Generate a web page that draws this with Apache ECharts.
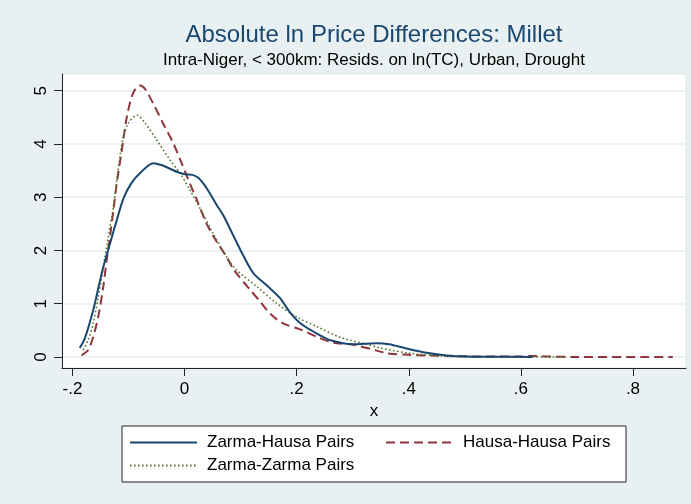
<!DOCTYPE html>
<html>
<head>
<meta charset="utf-8">
<script src="https://cdn.jsdelivr.net/npm/echarts@6/dist/echarts.min.js"></script>
<style>
  html, body { margin: 0; padding: 0; background: #e8f0f2; }
  #main { width: 691px; height: 504px; }
</style>
</head>
<body>
<div id="main"></div>
<script>
// x positions and kernel density values
var zarmaHausaX = [-0.187, -0.178, -0.163, -0.154, -0.145, -0.133, -0.121, -0.109, -0.094, -0.077, -0.056, -0.040, -0.025, -0.012, 0.002, 0.014, 0.025, 0.040, 0.057, 0.069, 0.087, 0.105, 0.123, 0.146, 0.170, 0.188, 0.206, 0.236, 0.262, 0.300, 0.343, 0.365, 0.396, 0.432, 0.468, 0.503, 0.550, 0.620];
var zarmaHausaY = [0.17, 0.35, 0.88, 1.29, 1.69, 2.13, 2.57, 2.98, 3.28, 3.48, 3.64, 3.60, 3.53, 3.47, 3.43, 3.42, 3.36, 3.16, 2.86, 2.66, 2.28, 1.90, 1.57, 1.35, 1.11, 0.84, 0.64, 0.44, 0.31, 0.24, 0.26, 0.24, 0.16, 0.08, 0.03, 0.01, 0.005, 0.0];

var hausaHausaX = [-0.184, -0.172, -0.163, -0.154, -0.145, -0.139, -0.133, -0.127, -0.121, -0.112, -0.103, -0.092, -0.080, -0.071, -0.056, -0.038, -0.020, -0.005, 0.007, 0.022, 0.039, 0.057, 0.075, 0.087, 0.117, 0.135, 0.152, 0.176, 0.206, 0.236, 0.265, 0.301, 0.343, 0.361, 0.402, 0.462, 0.530, 0.600, 0.620, 0.650, 0.700, 0.871];
var hausaHausaY = [0.03, 0.13, 0.38, 0.76, 1.32, 1.82, 2.26, 2.76, 3.26, 3.88, 4.51, 4.95, 5.10, 5.04, 4.76, 4.38, 4.01, 3.63, 3.32, 2.95, 2.51, 2.17, 1.88, 1.65, 1.26, 1.04, 0.82, 0.63, 0.52, 0.38, 0.27, 0.23, 0.12, 0.07, 0.04, 0.02, 0.01, 0.01, 0.02, 0.01, 0.0, 0.0];

var zarmaZarmaX = [-0.181, -0.172, -0.163, -0.154, -0.145, -0.136, -0.127, -0.118, -0.110, -0.100, -0.085, -0.071, -0.050, -0.026, -0.008, 0.010, 0.027, 0.051, 0.075, 0.093, 0.129, 0.164, 0.200, 0.236, 0.280, 0.325, 0.349, 0.402, 0.462, 0.521, 0.600, 0.680];
var zarmaZarmaY = [0.13, 0.32, 0.63, 1.13, 1.69, 2.26, 2.82, 3.55, 4.10, 4.40, 4.54, 4.40, 4.08, 3.70, 3.45, 3.13, 2.80, 2.32, 1.88, 1.63, 1.32, 1.01, 0.75, 0.57, 0.36, 0.24, 0.17, 0.07, 0.02, 0.0, 0.0, 0.0];

var seriesNames = ['Zarma-Hausa Pairs', 'Hausa-Hausa Pairs', 'Zarma-Zarma Pairs'];

var xTicks = [-0.2, 0, 0.2, 0.4, 0.6, 0.8];
var xTickLabels = ['-.2', '0', '.2', '.4', '.6', '.8'];
var yTicks = [0, 1, 2, 3, 4, 5];

function pairs(xs, ys) {
  return xs.map(function (x, i) { return [x, ys[i]]; });
}

var font = "'Liberation Sans', Arial, sans-serif";
var chart = echarts.init(document.getElementById('main'));

var option = {
  backgroundColor: '#e8f0f2',
  animation: false,
  title: {
    text: 'Absolute ln Price Differences: Millet',
    subtext: 'Intra-Niger, < 300km: Resids. on ln(TC), Urban, Drought',
    left: 374,
    top: 23,
    textAlign: 'center',
    itemGap: 5,
    padding: 0,
    textStyle: { fontFamily: font, fontSize: 24, fontWeight: 'normal', color: '#1a476f' },
    subtextStyle: { fontFamily: font, fontSize: 17, color: '#000' }
  },
  legend: {
    data: [
      { name: seriesNames[0], textStyle: { width: 178 } },
      { name: seriesNames[1], textStyle: { width: 160 } },
      { name: seriesNames[2], textStyle: { width: 178 } }
    ],
    left: 122,
    top: 426,
    width: 495,
    itemGap: 0,
    itemWidth: 67,
    itemHeight: 14,
    padding: [5, 3, 5, 7],
    backgroundColor: '#fff',
    borderColor: '#222',
    borderWidth: 1,
    itemStyle: { opacity: 0 },
    textStyle: { fontFamily: font, fontSize: 17, color: '#000', lineHeight: 23, padding: [0, 0, 0, 5] }
  },
  grid: {
    left: 62,
    right: 5,
    top: 74,
    bottom: 136,
    show: true,
    backgroundColor: '#fff',
    borderColor: '#dfe7ea',
    borderWidth: 1
  },
  xAxis: {
    type: 'value',
    min: -0.2187,
    max: 0.8946,
    name: 'x',
    nameLocation: 'middle',
    nameGap: 28,
    nameTextStyle: { fontFamily: font, fontSize: 17, color: '#000' },
    axisLine: { onZero: false, lineStyle: { color: '#222', width: 1 } },
    axisTick: { show: true, length: 8, customValues: xTicks, lineStyle: { color: '#222' } },
    axisLabel: {
      customValues: xTicks,
      margin: 13,
      fontFamily: font, fontSize: 17, color: '#000',
      formatter: function (v) {
        var i = xTicks.findIndex(function (t) { return Math.abs(t - v) < 1e-9; });
        return i >= 0 ? xTickLabels[i] : '';
      }
    },
    splitLine: { show: false }
  },
  yAxis: {
    type: 'value',
    min: -0.2065,
    max: 5.314,
    axisLine: { show: true, onZero: false, lineStyle: { color: '#222', width: 1 } },
    axisTick: { show: true, length: 8, customValues: yTicks, lineStyle: { color: '#222' } },
    axisLabel: {
      customValues: yTicks,
      rotate: 90,
      margin: 12,
      fontFamily: font, fontSize: 17, color: '#000'
    },
    splitLine: { show: true, lineStyle: { color: '#e6eef1', width: 1.5 } }
  },
  series: [
    {
      name: seriesNames[0],
      type: 'line',
      data: pairs(zarmaHausaX, zarmaHausaY),
      symbol: 'none',
      smooth: 0.3,
      z: 4,
      lineStyle: { color: '#1a476f', width: 2 },
      itemStyle: { color: '#1a476f' }
    },
    {
      name: seriesNames[1],
      type: 'line',
      data: pairs(hausaHausaX, hausaHausaY),
      symbol: 'none',
      smooth: 0.3,
      z: 3,
      lineStyle: { color: '#90353b', width: 2, type: [9, 5] },
      itemStyle: { color: '#90353b' }
    },
    {
      name: seriesNames[2],
      type: 'line',
      data: pairs(zarmaZarmaX, zarmaZarmaY),
      symbol: 'none',
      smooth: 0.3,
      z: 3,
      lineStyle: { color: '#55752f', width: 1.6, type: [1.6, 2.4] },
      itemStyle: { color: '#55752f' }
    }
  ]
};

chart.setOption(option);
</script>
</body>
</html>
